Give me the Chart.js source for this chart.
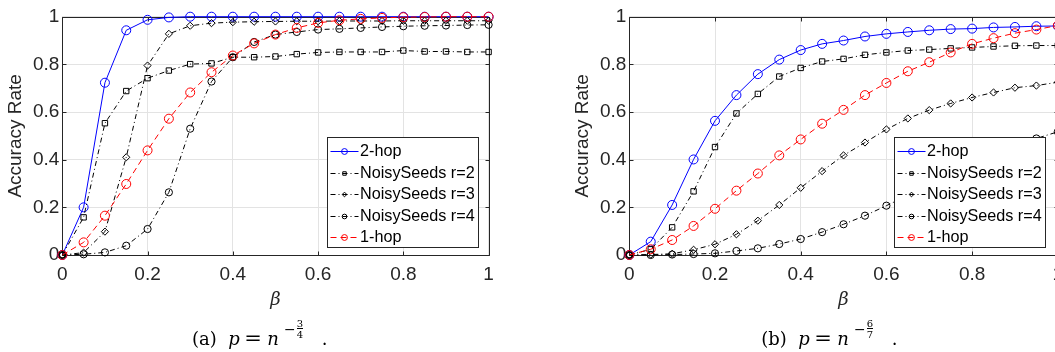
<!DOCTYPE html>
<html>
<head>
<meta charset="utf-8">
<script src="https://cdn.jsdelivr.net/npm/chart.js@4.4.1/dist/chart.umd.min.js"></script>
<style>
  html, body { margin: 0; padding: 0; background: #fff; }
  body { width: 1055px; height: 352px; overflow: hidden; position: relative; }
  canvas { position: absolute; top: 0; }
  #panelA { left: 0; }
  #panelB { left: 567px; }
  .cap { position: absolute; top: 320px; white-space: nowrap; font-family: 'DejaVu Serif', serif;
         font-size: 18px; line-height: 22px; color: #000; }
  .cap > span { display: inline-block; }
  .cap .lbl { width: 40px; padding-right: 11.6px; box-sizing: border-box; text-align: right; }
  .cap .mi { font-style: italic; }
  .cap .p { width: 16px; }
  .cap .eq { width: 23px; font-size: 21px; line-height: 21px; }
  .cap .n { width: 16.7px; }
  .cap .minus { width: 12.7px; font-size: 14px; line-height: 13px; vertical-align: 11px; }
  .cap .fbox { width: 25px; }
  .cap .frac { display: inline-flex; flex-direction: column; align-items: center; font-size: 10px;
               line-height: 8px; vertical-align: 18px; }
  .cap .frac .den { border-top: 1px solid #000; padding-top: 1px; line-height: 9px; }
</style>
</head>
<body>
<canvas id="panelA" width="525" height="352"></canvas>
<canvas id="panelB" width="525" height="352"></canvas>

<div class="cap" style="left:188.3px"><span class="lbl">(a)</span><span class="mi p">p</span><span class="eq">=</span><span class="mi n">n</span><span class="minus">−</span><span class="fbox"><span class="frac"><span>3</span><span class="den">4</span></span></span><span>.</span></div>
<div class="cap" style="left:758.3px"><span class="lbl">(b)</span><span class="mi p">p</span><span class="eq">=</span><span class="mi n">n</span><span class="minus">−</span><span class="fbox"><span class="frac"><span>6</span><span class="den">7</span></span></span><span>.</span></div>

<script>
// Noise level beta on the x axis
const beta = [0, 0.05, 0.1, 0.15, 0.2, 0.25, 0.3, 0.35, 0.4, 0.45, 0.5,
              0.55, 0.6, 0.65, 0.7, 0.75, 0.8, 0.85, 0.9, 0.95, 1];
const xTicks = [0, 0.2, 0.4, 0.6, 0.8, 1];
const yTicks = [0, 0.2, 0.4, 0.6, 0.8, 1];
const seriesLabels = ['2-hop', 'NoisySeeds r=2', 'NoisySeeds r=3', 'NoisySeeds r=4', '1-hop'];

// (a) p = n^(-3/4)
const twoHopA = [0, 0.20, 0.723, 0.943, 0.987, 0.997, 1, 1, 1, 1, 1,
                 1, 1, 1, 1, 1, 1, 1, 1, 1, 1];
const seedsR2A = [0, 0.158, 0.553, 0.688, 0.742, 0.774, 0.801, 0.804, 0.83, 0.83, 0.833,
                  0.843, 0.85, 0.852, 0.852, 0.852, 0.858, 0.854, 0.854, 0.852, 0.852];
const seedsR3A = [0, 0.01, 0.098, 0.41, 0.795, 0.928, 0.962, 0.973, 0.977, 0.979, 0.98,
                  0.981, 0.981, 0.982, 0.982, 0.982, 0.983, 0.983, 0.983, 0.983, 0.983];
const seedsR4A = [0, 0.003, 0.011, 0.039, 0.109, 0.263, 0.53, 0.728, 0.83, 0.894, 0.925,
                  0.936, 0.946, 0.949, 0.953, 0.957, 0.96, 0.962, 0.963, 0.965, 0.966];
const oneHopA = [0, 0.053, 0.165, 0.298, 0.439, 0.572, 0.682, 0.767, 0.837, 0.888, 0.925,
                 0.953, 0.974, 0.985, 0.991, 0.995, 0.998, 0.999, 1, 1, 1];

// (b) p = n^(-6/7)
const twoHopB = [0, 0.056, 0.21, 0.401, 0.563, 0.671, 0.759, 0.82, 0.86, 0.886, 0.90,
                 0.917, 0.928, 0.936, 0.943, 0.948, 0.95, 0.955, 0.957, 0.96, 0.961];
const seedsR2B = [0, 0.024, 0.116, 0.267, 0.453, 0.594, 0.676, 0.749, 0.785, 0.812, 0.823,
                  0.84, 0.85, 0.858, 0.862, 0.867, 0.871, 0.875, 0.878, 0.879, 0.879];
const seedsR3B = [0, 0.002, 0.005, 0.022, 0.045, 0.087, 0.144, 0.21, 0.282, 0.352, 0.418,
                  0.472, 0.527, 0.573, 0.608, 0.636, 0.661, 0.682, 0.702, 0.711, 0.725];
const seedsR4B = [0, 0, 0.002, 0.004, 0.007, 0.017, 0.028, 0.046, 0.067, 0.096, 0.129,
                  0.165, 0.207, 0.25, 0.295, 0.34, 0.38, 0.42, 0.455, 0.489, 0.517];
const oneHopB = [0, 0.024, 0.063, 0.122, 0.194, 0.27, 0.342, 0.418, 0.485, 0.551, 0.609,
                 0.671, 0.722, 0.771, 0.809, 0.85, 0.886, 0.91, 0.931, 0.946, 0.963];

const DASHDOT = [5, 3, 1, 3];
const seriesStyles = [
  { color: '#0000ff', point: 'circle',  r: 4.5, dash: [] },
  { color: '#000000', point: 'rect',    r: 3.8, dash: DASHDOT },
  { color: '#000000', point: 'rectRot', r: 3.6, dash: DASHDOT },
  { color: '#000000', point: 'circle',  r: 3.6, dash: DASHDOT },
  { color: '#ff0000', point: 'circle',  r: 4.5, dash: [6, 4] }
];

const AXIS = '#262626';
Chart.defaults.font.family = "'Liberation Sans', Arial, sans-serif";

function marker(ctx, style, x, y, r) {
  ctx.beginPath();
  if (style === 'circle') {
    ctx.arc(x, y, r, 0, Math.PI * 2);
  } else if (style === 'rect') {
    const s = r * Math.SQRT1_2;
    ctx.rect(x - s, y - s, 2 * s, 2 * s);
  } else {
    ctx.moveTo(x - r, y); ctx.lineTo(x, y - r); ctx.lineTo(x + r, y); ctx.lineTo(x, y + r);
    ctx.closePath();
  }
  ctx.stroke();
}

// Box around the axes with inward tick marks on all four sides
const frame = {
  id: 'frame',
  beforeDatasetsDraw(chart) {
    const { ctx, chartArea: a, scales: { x, y } } = chart;
    const L = Math.round(a.left) + 0.5, R = Math.round(a.right) + 0.5;
    const T = Math.round(a.top) + 0.5, B = Math.round(a.bottom) + 0.5;
    ctx.save();
    ctx.strokeStyle = AXIS;
    ctx.lineWidth = 1;
    ctx.beginPath();
    x.ticks.forEach(t => {
      const px = Math.round(x.getPixelForValue(t.value)) + 0.5;
      ctx.moveTo(px, B); ctx.lineTo(px, B - 4);
      ctx.moveTo(px, T); ctx.lineTo(px, T + 4);
    });
    y.ticks.forEach(t => {
      const py = Math.round(y.getPixelForValue(t.value)) + 0.5;
      ctx.moveTo(L, py); ctx.lineTo(L + 4, py);
      ctx.moveTo(R, py); ctx.lineTo(R - 4, py);
    });
    ctx.rect(L, T, R - L, B - T);
    ctx.stroke();
    ctx.restore();
  }
};

// Framed legend inside the plot area
const boxLegend = {
  id: 'boxLegend',
  afterDatasetsDraw(chart, args, opts) {
    const { ctx, chartArea: a } = chart;
    const L = Math.round(a.left + opts.dx) + 0.5, T = Math.round(a.top + opts.dy) + 0.5;
    ctx.save();
    ctx.fillStyle = '#fff';
    ctx.fillRect(L, T, opts.w, opts.h);
    ctx.strokeStyle = AXIS;
    ctx.lineWidth = 1;
    ctx.setLineDash([]);
    ctx.strokeRect(L, T, opts.w, opts.h);
    ctx.font = "16.2px 'Liberation Sans', Arial, sans-serif";
    ctx.textBaseline = 'middle';
    chart.data.datasets.forEach((ds, i) => {
      const cy = Math.round(T + 13.7 + i * 21.5) + 0.5;
      ctx.strokeStyle = ds.borderColor;
      ctx.lineWidth = ds.borderWidth;
      ctx.setLineDash(ds.borderDash);
      ctx.beginPath();
      ctx.moveTo(L + 3, cy); ctx.lineTo(L + 31, cy);
      ctx.stroke();
      ctx.setLineDash([]);
      marker(ctx, ds.pointStyle, L + 17, cy, ds.pointRadius * 0.65);
      ctx.fillStyle = '#000';
      ctx.fillText(ds.label, L + 32.5, cy + 0.5);
    });
    ctx.restore();
  }
};

function makeChart(id, values, rightPad) {
  const n = values.length;
  const datasets = values.map((vals, i) => {
    const st = seriesStyles[i];
    return {
      label: seriesLabels[i],
      data: beta.map((b, j) => ({ x: b, y: vals[j] })),
      borderColor: st.color,
      backgroundColor: 'rgba(0,0,0,0)',
      borderWidth: 1,
      borderDash: st.dash,
      pointStyle: st.point,
      pointRadius: st.r,
      pointBorderColor: st.color,
      pointBackgroundColor: 'rgba(0,0,0,0)',
      pointBorderWidth: 1,
      tension: 0,
      fill: false,
      clip: false,
      order: n - 1 - i
    };
  });
  return new Chart(document.getElementById(id), {
    type: 'line',
    data: { datasets },
    options: {
      responsive: false,
      animation: false,
      events: [],
      layout: { padding: { left: 0, top: 16.7, right: rightPad, bottom: 0 } },
      plugins: {
        legend: { display: false },
        tooltip: { enabled: false },
        boxLegend: { dx: 264.7, dy: 120.3, w: 151, h: 110 }
      },
      scales: {
        x: {
          type: 'linear', min: 0, max: 1,
          afterBuildTicks: s => { s.ticks = xTicks.map(v => ({ value: v })); },
          afterFit: s => { s.height = 97; },
          grid: { color: '#e3e3e3', lineWidth: 1, drawTicks: false },
          border: { display: false },
          ticks: { autoSkip: false, maxRotation: 0, padding: 8, color: AXIS,
                   font: { size: 19 }, callback: v => String(v) },
          title: { display: true, text: 'β', color: AXIS,
                   font: { family: "'DejaVu Serif', serif", style: 'italic', size: 18 },
                   padding: { top: 0, bottom: 41 } }
        },
        y: {
          type: 'linear', min: 0, max: 1,
          afterBuildTicks: s => { s.ticks = yTicks.map(v => ({ value: v })); },
          afterFit: s => { s.width = 62.3; },
          grid: { color: '#e3e3e3', lineWidth: 1, drawTicks: false },
          border: { display: false },
          ticks: { padding: 3, color: AXIS, font: { size: 19 }, callback: v => String(v) },
          title: { display: true, text: 'Accuracy Rate', color: AXIS,
                   font: { size: 19 }, padding: { top: 4, bottom: 0 } }
        }
      }
    },
    plugins: [frame, boxLegend]
  });
}

makeChart('panelA', [twoHopA, seedsR2A, seedsR3A, seedsR4A, oneHopA], 36.4);
makeChart('panelB', [twoHopB, seedsR2B, seedsR3B, seedsR4B, oneHopB], 34.2);
</script>
</body>
</html>
